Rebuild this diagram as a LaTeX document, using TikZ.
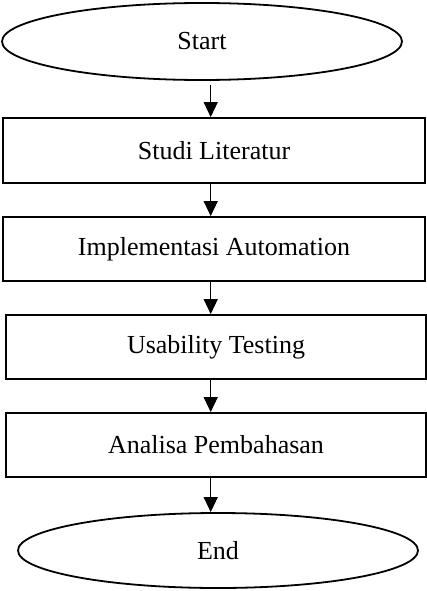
\documentclass[tikz,border=0pt]{standalone}
\usepackage{fontspec}
\setmainfont{Liberation Serif}
\usetikzlibrary{shapes.geometric,arrows.meta}
\tikzset{
  flowline/.style={line width=1.8pt},
  terminal/.style={flowline, draw, ellipse, inner sep=0pt, minimum width=400pt},
  process/.style={flowline, draw, rectangle, inner sep=0pt, minimum height=64pt},
  flowarrow/.style={line width=1.2pt, -{Triangle[width=14pt,length=15pt]}},
  lbl/.style={font=\fontsize{26}{31}\selectfont}
}
\begin{document}
\begin{tikzpicture}[x=1pt,y=-1pt]
  \useasboundingbox (0,0) rectangle (427,591);
  % flowchart steps
  \node[terminal, minimum height=77pt, lbl] (start) at (202,41.5) {Start};
  \node[process, minimum width=422pt, minimum height=65pt, lbl] (studi) at (214,150.5) {Studi Literatur};
  \node[process, minimum width=422pt, lbl] (impl) at (214,249) {Implementasi Automation};
  \node[process, minimum width=420pt, lbl] (usab) at (216,347) {Usability Testing};
  \node[process, minimum width=420pt, lbl] (anal) at (216,445) {Analisa Pembahasan};
  \node[terminal, minimum height=75pt, lbl] (end) at (218,550.5) {End};
  % vertical line along which all arrows run
  \coordinate (ax) at (210.7,0);
  \draw[flowarrow, shorten <=4pt] (start.south -| ax) -- (studi.north -| ax);
  \draw[flowarrow] (studi.south -| ax) -- (impl.north -| ax);
  \draw[flowarrow] (impl.south -| ax) -- (usab.north -| ax);
  \draw[flowarrow] (usab.south -| ax) -- (anal.north -| ax);
  \draw[flowarrow] (anal.south -| ax) -- (end.north -| ax);
\end{tikzpicture}
\end{document}
